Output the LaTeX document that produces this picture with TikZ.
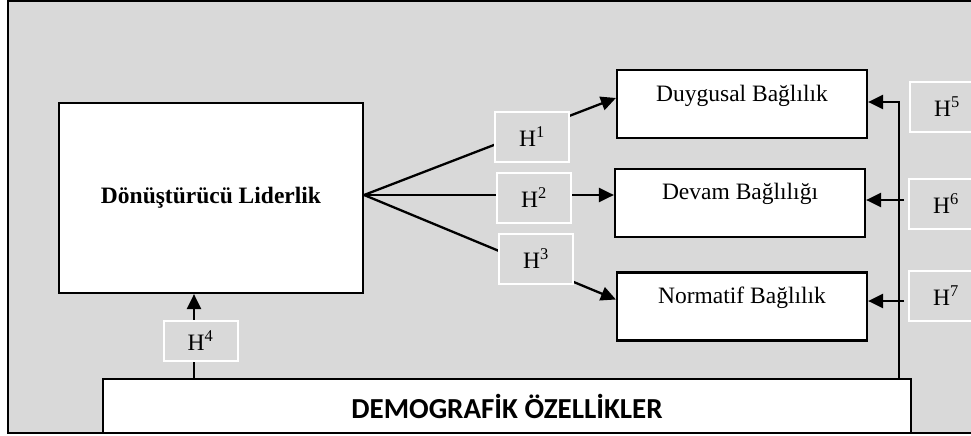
\documentclass[tikz,border=0pt]{standalone}
\usepackage{fontspec}
\setmainfont{Liberation Serif}
\newfontfamily\calfont{Carlito}
\usetikzlibrary{arrows.meta,calc}
\definecolor{bgc}{RGB}{217,217,217}
\tikzset{
  box/.style={draw=black, line width=2.2pt, fill=white, inner sep=0pt, font=\fontsize{23.5}{28}\selectfont},
  lbl/.style={font=\fontsize{23.5}{28}\selectfont, inner sep=0pt},
  hbox/.style={draw=white, line width=2pt, fill=bgc, minimum width=74pt, minimum height=50pt, inner sep=0pt, font=\fontsize{23.5}{28}\selectfont},
  arr/.style={line width=2.3pt, -{Triangle[length=15pt,width=14pt]}},
}
\begin{document}
\begin{tikzpicture}[x=1pt,y=-1pt]
\useasboundingbox (0,0) rectangle (971,436);
\clip (0,0) rectangle (971,436);
\draw[line width=2pt, fill=bgc] (8,1) rectangle (990,433);

\node[box, minimum width=304pt, minimum height=190pt] (main) at (211,198) {\bfseries Dönüştürücü Liderlik};
\node[box, minimum width=250pt, minimum height=68pt, label={[lbl,yshift=8pt]center:Duygusal Bağlılık}] (duy) at (742,104) {};
\node[box, minimum width=250pt, minimum height=68pt, label={[lbl,yshift=9pt]center:Devam Bağlılığı}] (dev) at (740,203) {};
\node[box, minimum width=250pt, minimum height=68pt, label={[lbl,yshift=8.5pt]center:Normatif Bağlılık}] (nor) at (742,306.5) {};
\node[box, minimum width=808pt, minimum height=54pt, font={\calfont\bfseries\fontsize{29}{33}\selectfont}] (dem) at (507,406) {DEMOGRAFİK ÖZELLİKLER};

\draw[arr] ([yshift=3pt]main.east) -- ([yshift=6pt]duy.west);
\draw[arr] ([yshift=3pt]main.east) -- ([yshift=8pt]dev.west);
\draw[arr] ([yshift=3pt]main.east) -- ([yshift=7pt]nor.west);

\coordinate (d4) at (194,379);
\draw[arr] (d4) -- (d4 |- main.south);
\coordinate (d5) at (899,379);
\draw[arr] (d5) |- ([yshift=2pt]duy.east);
\coordinate (c6) at (904,200);
\draw[arr] (c6) -- (c6 -| dev.east);
\coordinate (c7) at (904,301);
\draw[arr] (c7) -- (c7 -| nor.east);

\node[hbox] (h1) at (532,137) {H\textsuperscript{1}};
\node[hbox] (h2) at (534,198) {H\textsuperscript{2}};
\node[hbox] (h3) at (536,259) {H\textsuperscript{3}};
\node[hbox, minimum height=40pt] (h4) at (200.5,341) {H\textsuperscript{4}};
\node[hbox] (h5) at (947,107) {H\textsuperscript{5}};
\node[hbox] (h6) at (946,204) {H\textsuperscript{6}};
\node[hbox] (h7) at (946,295.5) {H\textsuperscript{7}};
\end{tikzpicture}
\end{document}
